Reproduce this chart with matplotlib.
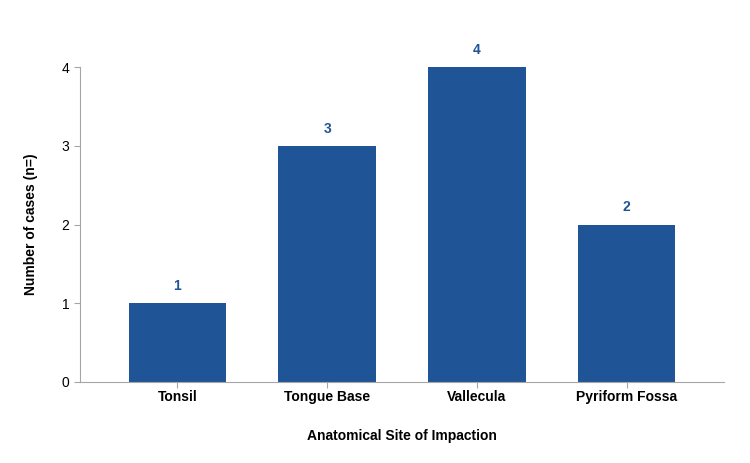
import matplotlib
matplotlib.use('Agg')
import matplotlib.pyplot as plt

plt.rcParams['font.family'] = ['Liberation Sans', 'DejaVu Sans']

sites = ['Tonsil', 'Tongue Base', 'Vallecula', 'Pyriform Fossa']
cases = [1, 3, 4, 2]

bar_color = '#1f5496'
axis_color = '#a6a6a6'

fig = plt.figure(figsize=(7.5, 4.63), dpi=100)
ax = fig.add_axes([0.1067, 0.175, 0.8586, 0.68])

x = list(range(len(sites)))
ax.bar(x, cases, width=0.65, color=bar_color)
for xi, v in zip(x, cases):
    ax.text(xi, v + 0.13, str(v), ha='center', va='bottom',
            color=bar_color, fontsize=10, fontweight='bold')

ax.set_xlim(-0.65, len(sites) - 1 + 0.65)
ax.set_ylim(0, 4)
ax.set_yticks([0, 1, 2, 3, 4])
ax.set_xticks(x)
ax.set_xticklabels(sites, fontsize=10, fontweight='bold')
ax.tick_params(axis='y', labelsize=10, color=axis_color, length=4)
ax.tick_params(axis='x', color=axis_color, length=4, pad=2)

for s in ['top', 'right']:
    ax.spines[s].set_visible(False)
for s in ['left', 'bottom']:
    ax.spines[s].set_color(axis_color)

ax.set_xlabel('Anatomical Site of Impaction', fontsize=10, fontweight='bold', labelpad=18)
ax.set_ylabel('Number of cases (n=)', fontsize=10, fontweight='bold', labelpad=17)

fig.savefig('out.png', dpi=100)
